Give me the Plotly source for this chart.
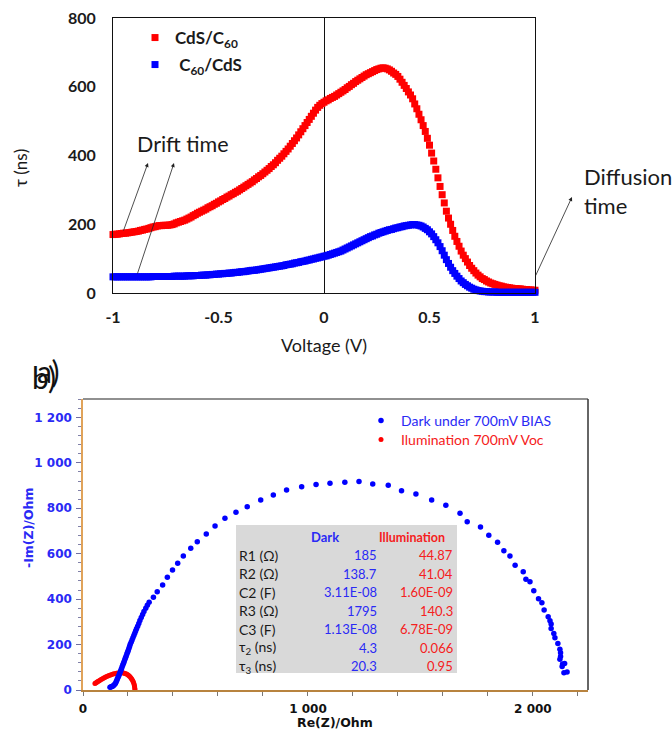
import plotly.graph_objects as go

# ---------------- (a) transit time vs voltage ----------------
voltage = [round(-1 + 0.01 * i, 2) for i in range(201)]

tau_cds_c60 = [
    170, 171, 171, 172, 173, 174, 174, 175, 176, 177,
    178, 179, 180, 182, 183, 185, 186, 188, 190, 192,
    193, 195, 196, 196, 197, 197, 197, 198, 199, 201,
    204, 206, 208, 210, 212, 215, 218, 221, 225, 228,
    232, 235, 238, 241, 244, 248, 251, 254, 258, 261,
    265, 268, 272, 275, 279, 282, 286, 289, 293, 296,
    300, 304, 308, 312, 316, 320, 324, 329, 333, 338,
    342, 347, 352, 357, 362, 368, 373, 379, 386, 392,
    398, 405, 412, 419, 427, 435, 443, 451, 460, 469,
    478, 487, 496, 505, 514, 523, 532, 540, 546, 551,
    555, 559, 562, 566, 569, 572, 576, 580, 584, 588,
    592, 597, 601, 606, 610, 615, 619, 623, 627, 631,
    635, 638, 641, 644, 647, 650, 652, 654, 655, 654,
    652, 649, 645, 640, 636, 630, 622, 613, 604, 595,
    585, 576, 565, 550, 536, 520, 504, 487, 470, 450,
    430, 407, 384, 360, 335, 310, 286, 262, 238, 218,
    200, 182, 165, 150, 136, 122, 110, 100, 90, 80,
    72, 65, 58, 52, 47, 42, 39, 35, 32, 29,
    27, 25, 23, 21, 20, 18, 17, 16, 15, 14,
    13, 13, 12, 12, 11, 10, 10, 9, 9, 8,
    8,
]

tau_c60_cds = [
    47, 47, 47, 47, 47, 47, 47, 47, 47, 47,
    47, 47, 47, 47, 47, 47, 47, 47, 47, 48,
    48, 48, 48, 48, 48, 48, 48, 48, 48, 49,
    49, 49, 49, 49, 49, 50, 50, 50, 50, 51,
    51, 51, 52, 52, 52, 53, 53, 54, 54, 55,
    55, 56, 56, 57, 57, 58, 58, 59, 60, 60,
    61, 62, 62, 63, 64, 65, 66, 66, 67, 68,
    69, 70, 71, 72, 73, 74, 75, 76, 77, 78,
    79, 80, 82, 83, 84, 85, 87, 88, 89, 91,
    92, 93, 95, 96, 98, 99, 101, 102, 104, 105,
    107, 108, 110, 112, 114, 116, 118, 120, 122, 125,
    128, 131, 134, 137, 140, 143, 146, 149, 152, 155,
    158, 161, 164, 166, 169, 171, 174, 176, 178, 180,
    182, 184, 185, 187, 189, 190, 192, 193, 195, 196,
    197, 198, 199, 199, 198, 197, 195, 192, 188, 184,
    178, 172, 164, 155, 146, 135, 123, 110, 97, 86,
    75, 65, 57, 49, 42, 35, 30, 25, 21, 17,
    14, 11, 9, 7, 6, 5, 4, 4, 3, 3,
    3, 3, 2, 2, 2, 2, 2, 2, 2, 2,
    2, 2, 2, 2, 2, 2, 2, 2, 2, 2,
    2,
]

volt_ticks = [-1, -0.5, 0, 0.5, 1]
volt_ticktext = ["-1", "-0.5", "0", "0.5", "1"]

# ---------------- (b) Nyquist plot ----------------
dark_re = [
    120, 124, 128, 132, 136, 140, 144, 147, 150, 153, 156, 159, 162, 165, 168,
    171, 174, 177, 180, 183, 186, 189, 192, 195, 198, 201, 204, 207, 210, 214,
    218, 222, 226, 230, 234, 238, 243, 248, 253, 259, 265, 271, 279, 286, 294,
    313, 330, 354, 375, 398, 421, 446, 479, 508, 548, 587, 631, 680, 730, 790,
    846, 905, 972, 1036, 1098, 1164, 1227, 1288, 1357, 1416, 1480, 1550, 1613,
    1676, 1708, 1767, 1804, 1843, 1871, 1898, 1921, 1957, 1969, 1987, 2004,
    2025, 2040, 2050, 2068, 2076, 2081, 2081, 2093, 2098, 2111, 2120, 2123,
    2123, 2120, 2132, 2141, 2130, 2138, 2152,
]
dark_im = [
    12, 13, 15, 17, 20, 24, 29, 35, 42, 49, 56, 63, 70, 78, 86,
    94, 102, 110, 118, 126, 134, 142, 150, 158, 166, 174, 183, 192, 201, 210,
    220, 230, 240, 250, 260, 270, 281, 293, 306, 319, 332, 346, 360, 373, 386,
    408, 433, 462, 496, 528, 558, 590, 624, 653, 687, 722, 756, 782, 807, 836,
    858, 880, 895, 905, 910, 914, 918, 907, 901, 877, 863, 836, 813,
    778, 741, 717, 681, 650, 613, 590, 549, 521, 487, 477, 437,
    402, 384, 352, 323, 305, 290, 271, 249, 230, 205, 179, 164,
    147, 135, 114, 117, 103, 76, 79,
]

illum_re = [
    53, 56, 60, 64, 68, 72, 77, 82, 87, 92, 97, 102, 108, 113, 119, 125, 131,
    137, 143, 149, 155, 161, 167, 173, 179, 184, 189, 194, 199, 203, 207, 211,
    215, 218, 221, 224, 226, 228, 229, 230, 231,
]
illum_im = [
    29, 31, 33, 36, 38, 41, 44, 47, 50, 53, 55, 58, 60, 63, 65, 67, 69,
    71, 72, 74, 75, 75, 76, 76, 75, 74, 72, 70, 67, 64, 60, 56,
    51, 46, 41, 35, 29, 22, 16, 9, 3,
]

# fitted equivalent-circuit parameters
param_labels = ["R1 (Ω)", "R2 (Ω)", "C2 (F)", "R3 (Ω)", "C3 (F)",
                "τ<sub>2</sub> (ns)", "τ<sub>3</sub> (ns)"]
dark_params = ["185", "138.7", "3.11E-08", "1795", "1.13E-08", "4.3", "20.3"]
illum_params = ["44.87", "41.04", "1.60E-09", "140.3", "6.78E-09", "0.066", "0.95"]

re_ticks = [0, 1000, 2000]
re_ticktext = ["0", "1 000", "2 000"]
im_ticks = [0, 200, 400, 600, 800, 1000, 1200]
im_ticktext = ["0", "200", "400", "600", "800", "1 000", "1 200"]

# ---------------- page geometry ----------------
W, H = 672, 729


def fx(p):
    return p / W


def fy(p):
    return 1 - p / H


CAL = "Lato"
VER = "DejaVu Sans"
BLUE = "#0000ff"
RED = "#ff0000"
TXT_BLUE = "#2a2af5"
TXT_RED = "#f52020"


def note(text, x, y, size, color="#1a1a1a", family=CAL, xanchor="center", **kw):
    font = dict(family=family, size=size, color=color)
    if "weight" in kw:
        font["weight"] = kw.pop("weight")
    return dict(text=text, x=fx(x), y=fy(y), xref="paper", yref="paper",
                xanchor=xanchor, yanchor="middle", showarrow=False, font=font, **kw)


def arrow(head, tail):
    return dict(text="", x=fx(head[0]), y=fy(head[1]), xref="paper", yref="paper",
                ax=tail[0] - head[0], ay=tail[1] - head[1], showarrow=True,
                arrowhead=2, arrowsize=1, arrowwidth=0.8, arrowcolor="#222")


fig = go.Figure()

# (a) curves
fig.add_trace(go.Scatter(
    x=voltage, y=tau_cds_c60, mode="markers", name="CdS/C<sub>60</sub>",
    marker=dict(symbol="square", size=7, color=RED, line=dict(width=0)),
    xaxis="x", yaxis="y", legend="legend", cliponaxis=False,
))
fig.add_trace(go.Scatter(
    x=voltage, y=tau_c60_cds, mode="markers", name=" C<sub>60</sub>/CdS",
    marker=dict(symbol="square", size=7, color=BLUE, line=dict(width=0)),
    xaxis="x", yaxis="y", legend="legend2", cliponaxis=False,
))

# (b) impedance spectra
fig.add_trace(go.Scatter(
    x=illum_re, y=illum_im, mode="markers",
    name=f"<span style='color:{TXT_RED}'>Ilumination 700mV Voc</span>",
    marker=dict(size=5, color=RED, line=dict(width=0)),
    xaxis="x2", yaxis="y2", legend="legend4", cliponaxis=False,
))
fig.add_trace(go.Scatter(
    x=dark_re, y=dark_im, mode="markers",
    name=f"<span style='color:{TXT_BLUE}'>Dark under 700mV BIAS</span>",
    marker=dict(size=5.5, color=BLUE, line=dict(width=0)),
    xaxis="x2", yaxis="y2", legend="legend3", cliponaxis=False,
))

annotations = []
shapes = []

# axis titles for (a)
annotations.append(note("Voltage (V)", 324, 345, 18))
annotations.append(note("τ (ns)", 20, 168, 17, textangle=-90))

# callouts on (a)
annotations.append(note("Drift time", 135, 144, 21.5, xanchor="left"))
annotations.append(arrow((148, 163), (123, 232)))
annotations.append(arrow((174, 163), (137, 275)))
annotations.append(note("Diffusion<br>time", 582, 191, 22, xanchor="left", align="left"))
annotations.append(arrow((572, 197), (535, 277)))

# panel letters
annotations.append(note("b)", 30, 377, 30, color="#111", xanchor="left"))
annotations.append(note("a)", 35, 371, 30, color="#111", xanchor="left"))

# axis titles for (b)
annotations.append(note("Re(Z)/Ohm", 335, 722, 12.5, color="#111", family=VER, weight="bold"))
annotations.append(note("-Im(Z)/Ohm", 28, 528, 12.5, color=TXT_BLUE, family=VER,
                        weight="bold", textangle=-90))

# parameter table on (b)
shapes.append(dict(type="rect", xref="paper", yref="paper", x0=fx(236), x1=fx(457),
                   y0=fy(673), y1=fy(525), fillcolor="#d9d9d9", line=dict(width=0), layer="below"))
annotations.append(note("Dark", 325, 537, 13, color=TXT_BLUE, weight="bold"))
annotations.append(note("Illumination", 412, 537, 12.5, color=TXT_RED, weight="bold"))
for i, (lab, dv, iv) in enumerate(zip(param_labels, dark_params, illum_params)):
    yy = 555 + 18.5 * i
    annotations.append(note(lab, 237, yy, 14, xanchor="left"))
    annotations.append(note(dv, 379, yy, 13, color=TXT_BLUE, xanchor="right"))
    annotations.append(note(iv, 455, yy, 13, color=TXT_RED, xanchor="right"))

# black top/right frame of (b); left and bottom are the coloured axis lines
shapes.append(dict(type="line", xref="x2 domain", yref="y2 domain", x0=0, x1=1, y0=1, y1=1,
                   line=dict(color="#222", width=1.2)))
shapes.append(dict(type="line", xref="x2 domain", yref="y2 domain", x0=1, x1=1, y0=0, y1=1,
                   line=dict(color="#333", width=1.5)))

tick_font_a = dict(family=CAL, size=16, color="#1a1a1a", weight="bold")
leg_a = dict(xanchor="left", yanchor="middle", bgcolor="rgba(0,0,0,0)", borderwidth=0,
             itemwidth=30, font=dict(family=CAL, size=17, color="#1a1a1a", weight="bold"))
leg_b = dict(xanchor="left", yanchor="middle", bgcolor="rgba(0,0,0,0)", borderwidth=0,
             itemwidth=30, font=dict(family=CAL, size=14, color="#1a1a1a"))

fig.update_layout(
    width=W, height=H,
    margin=dict(l=0, r=0, t=0, b=0, autoexpand=False),
    paper_bgcolor="white", plot_bgcolor="white",
    showlegend=True,
    xaxis=dict(domain=[fx(113), fx(535)], range=[-1, 1], anchor="y", automargin=False,
               tickvals=volt_ticks, ticktext=volt_ticktext, tickfont=tick_font_a,
               ticks="", ticklabelstandoff=10, showgrid=False,
               zeroline=True, zerolinecolor="#111", zerolinewidth=1,
               showline=True, linecolor="#111", linewidth=1, mirror=True),
    yaxis=dict(domain=[fy(293), fy(18)], range=[0, 800], anchor="x", automargin=False,
               tickvals=[0, 200, 400, 600, 800], tickfont=tick_font_a,
               ticks="", ticklabelstandoff=13, showgrid=False, zeroline=False,
               showline=True, linecolor="#111", linewidth=1, mirror=True),
    xaxis2=dict(domain=[fx(83), fx(588)], range=[0, 2245], anchor="y2", automargin=False,
                tickvals=re_ticks, ticktext=re_ticktext,
                tickfont=dict(family=VER, size=12, color="#111", weight="bold"),
                ticks="outside", ticklen=4, tickcolor="#777", ticklabelstandoff=3,
                minor=dict(dtick=200, tick0=0, ticks="outside", ticklen=4, tickcolor="#777"),
                showgrid=False, zeroline=False,
                showline=True, linecolor="#b8833f", linewidth=2),
    yaxis2=dict(domain=[fy(690), fy(399)], range=[0, 1281], anchor="x2", automargin=False,
                tickvals=im_ticks, ticktext=im_ticktext,
                tickfont=dict(family=VER, size=12, color=TXT_BLUE, weight="bold"),
                ticks="outside", ticklen=5, tickcolor="#7070a0", ticklabelstandoff=2,
                minor=dict(dtick=40, tick0=0, ticks="outside", ticklen=3, tickcolor="#8080a8"),
                showgrid=False, zeroline=False,
                showline=True, linecolor="#e0a35a", linewidth=1.5),
    legend=dict(x=fx(135), y=fy(38), **leg_a),
    legend2=dict(x=fx(135), y=fy(65), **leg_a),
    legend3=dict(x=fx(361), y=fy(421), **leg_b),
    legend4=dict(x=fx(361), y=fy(440), **leg_b),
    annotations=annotations,
    shapes=shapes,
)

fig.write_html("out.html")
